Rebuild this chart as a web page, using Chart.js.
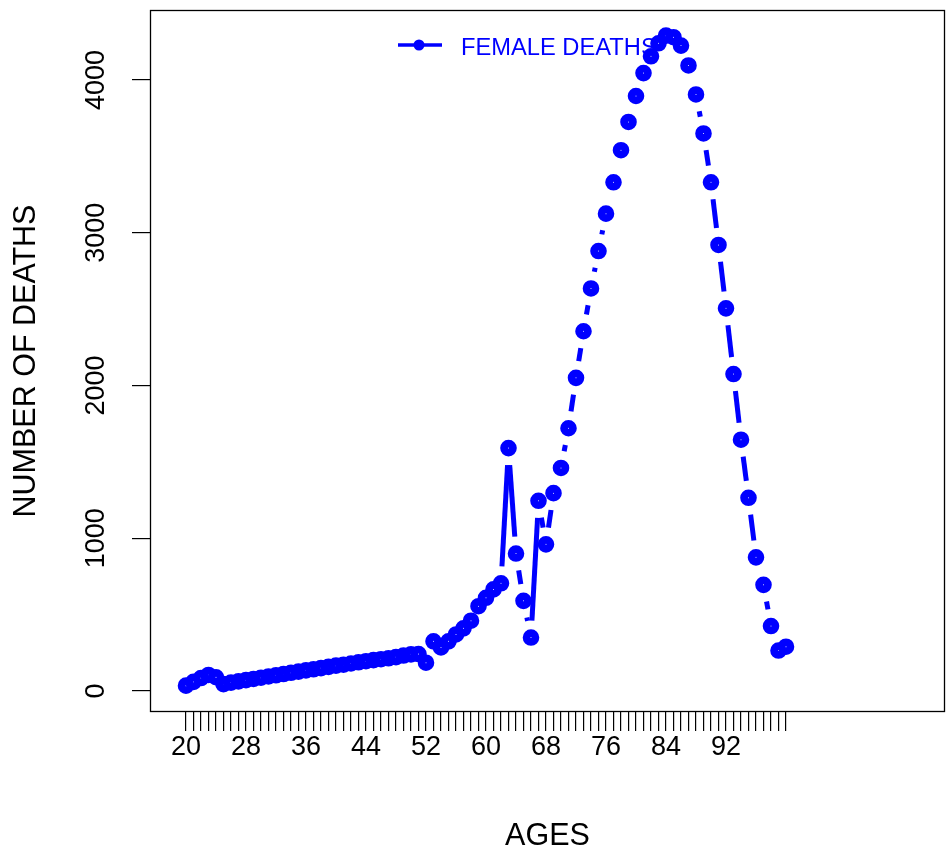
<!DOCTYPE html>
<html>
<head>
<meta charset="utf-8">
<script src="https://cdn.jsdelivr.net/npm/chart.js@4.4.1/dist/chart.umd.min.js"></script>
<style>
  html, body { margin: 0; padding: 0; background: #ffffff; }
  #wrap { width: 946px; height: 856px; }
</style>
</head>
<body>
<div id="wrap"><canvas id="c" width="946" height="856"></canvas></div>
<script>
// ---------------- data ----------------
const ages = [20,21,22,23,24,25,26,27,28,29,30,31,32,33,34,35,36,37,38,39,
              40,41,42,43,44,45,46,47,48,49,50,51,52,53,54,55,56,57,58,59,
              60,61,62,63,64,65,66,67,68,69,70,71,72,73,74,75,76,77,78,79,
              80,81,82,83,84,85,86,87,88,89,90,91,92,93,94,95,96,97,98,99,100];
const femaleDeaths = [35,60,85,105,90,45,55,63,71,79,87,95,103,111,119,127,135,142,150,158,
                      166,172,180,188,195,202,208,214,222,232,240,242,185,325,285,325,370,410,460,555,
                      610,665,705,1590,900,590,350,1245,960,1295,1460,1720,2050,2355,2635,2880,3125,3330,3540,3725,
                      3895,4045,4155,4240,4290,4280,4225,4095,3905,3650,3330,2920,2505,2075,1645,1265,875,695,425,265,290];
const xTickLabels = [20,28,36,44,52,60,68,76,84,92];
const yTickValues = [0,1000,2000,3000,4000];
const seriesLabel = 'FEMALE DEATHS';
const xTitle = 'AGES';
const yTitle = 'NUMBER OF DEATHS';

// ---------------- style ----------------
const BLUE = '#0000FF';
const FONT = '"Liberation Sans", Arial, sans-serif';
const GAP = 17; // R type="b" gap around points

const points = ages.map((a, i) => ({ x: a, y: femaleDeaths[i] }));

function noPad(s) { s.paddingTop = 0; s.paddingBottom = 0; s.paddingLeft = 0; s.paddingRight = 0; }

const boxPlugin = {
  id: 'rbox',
  afterDraw(chart) {
    const { ctx, chartArea: a } = chart;
    ctx.save();
    ctx.strokeStyle = '#000';
    ctx.lineWidth = 1.3;
    ctx.strokeRect(a.left + 0.5, a.top + 0.5, a.right - a.left - 1, a.bottom - a.top - 1);
    // legend (R style, no box)
    const lx = a.left + 248, ly = a.top + 35;
    ctx.strokeStyle = BLUE;
    ctx.lineWidth = 3.5;
    ctx.beginPath();
    ctx.moveTo(lx, ly);
    ctx.lineTo(lx + 44, ly);
    ctx.stroke();
    ctx.fillStyle = BLUE;
    ctx.beginPath();
    ctx.arc(lx + 21, ly, 5.5, 0, Math.PI * 2);
    ctx.fill();
    ctx.font = '23.7px ' + FONT;
    ctx.textBaseline = 'middle';
    ctx.textAlign = 'left';
    ctx.fillText(seriesLabel, lx + 63, ly + 3);
    ctx.restore();
  }
};

new Chart(document.getElementById('c'), {
  type: 'line',
  data: {
    datasets: [{
      label: seriesLabel,
      data: points,
      borderColor: BLUE,
      borderWidth: 5,
      borderCapStyle: 'butt',
      tension: 0,
      fill: false,
      pointRadius: 4.4,
      pointHoverRadius: 4.4,
      pointBorderWidth: 7.8,
      pointHoverBorderWidth: 7.8,
      pointBackgroundColor: '#ffffff',
      pointBorderColor: BLUE,
      segment: {
        borderDash: (ctx) => {
          const dx = ctx.p1.x - ctx.p0.x, dy = ctx.p1.y - ctx.p0.y;
          const L = Math.hypot(dx, dy);
          const uniq = 100000 + ctx.p0DataIndex;
          if (L <= 2 * GAP) return [0, uniq];
          return [0, GAP, L - 2 * GAP, uniq];
        }
      }
    }]
  },
  options: {
    responsive: false,
    animation: false,
    devicePixelRatio: 1,
    layout: { autoPadding: false, padding: { top: 10, right: 1, left: 0, bottom: 0 } },
    plugins: { legend: { display: false }, tooltip: { enabled: false } },
    events: [],
    scales: {
      x: {
        type: 'linear',
        min: 15.2,
        max: 121.2,
        afterBuildTicks: (s) => { s.ticks = ages.map(v => ({ value: v })); },
        afterFit: (s) => { s.height = 144; noPad(s); },
        ticks: {
          autoSkip: false,
          maxRotation: 0,
          minRotation: 0,
          padding: 0,
          color: '#000',
          font: { family: FONT, size: 27 },
          callback: (v) => xTickLabels.includes(v) ? String(v) : ''
        },
        grid: { drawOnChartArea: false, drawTicks: true, tickLength: 19, color: '#000', tickColor: '#000', lineWidth: 1.2 },
        border: { display: false },
        title: { display: true, text: xTitle, color: '#000', font: { family: FONT, size: 30.5 }, padding: { top: 0, bottom: 1 } }
      },
      y: {
        type: 'linear',
        min: -137.5,
        max: 4458,
        afterBuildTicks: (s) => { s.ticks = yTickValues.map(v => ({ value: v })); },
        afterFit: (s) => { s.width = 150; noPad(s); },
        ticks: {
          minRotation: 90,
          maxRotation: 90,
          crossAlign: 'center',
          padding: 5,
          color: '#000',
          font: { family: FONT, size: 27 },
          callback: (v) => String(v)
        },
        grid: { drawOnChartArea: false, drawTicks: true, tickLength: 18, color: '#000', tickColor: '#000', lineWidth: 1.2 },
        border: { display: false },
        title: { display: true, text: yTitle, color: '#000', font: { family: FONT, size: 30.5 }, padding: { top: 8, bottom: 0 } }
      }
    }
  },
  plugins: [boxPlugin]
});
</script>
</body>
</html>
